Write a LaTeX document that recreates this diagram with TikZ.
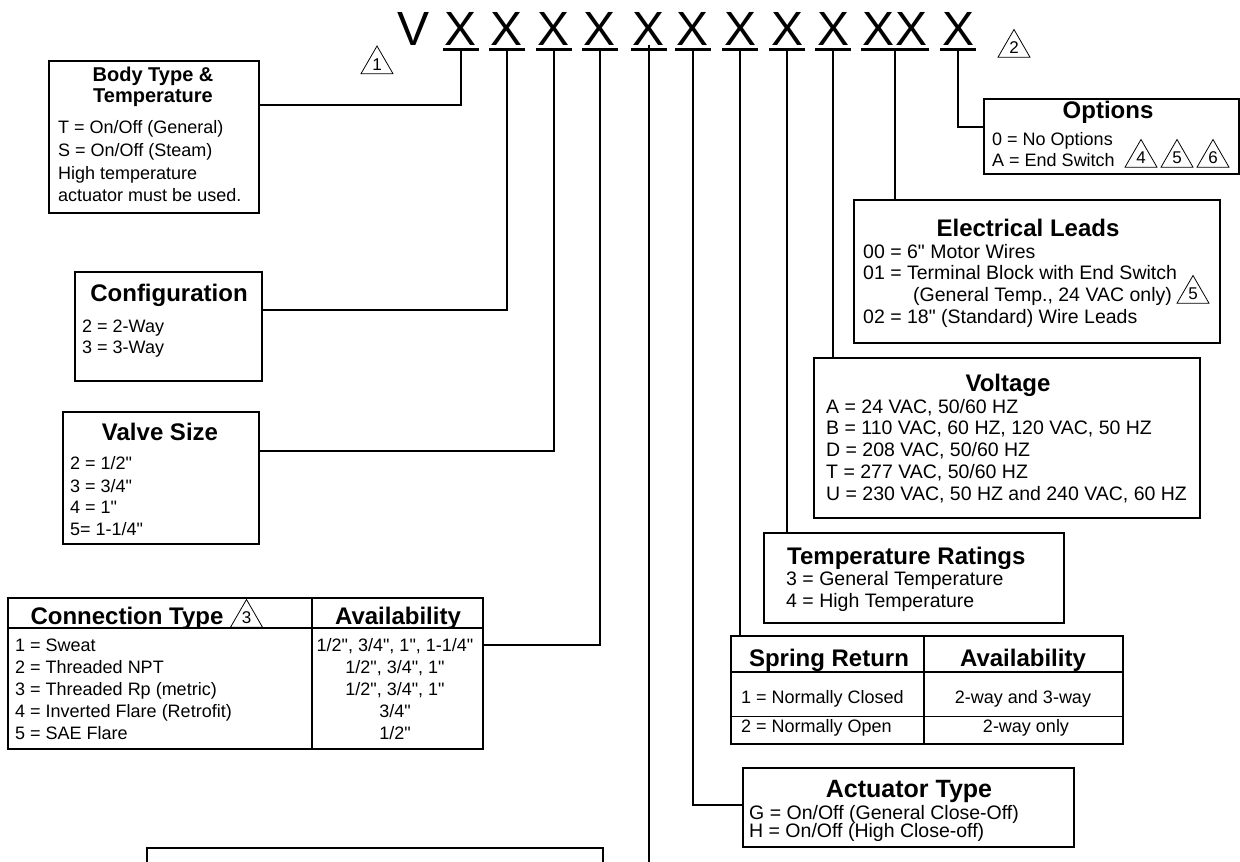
\documentclass[tikz,border=0pt]{standalone}
\usepackage{fontspec}
\setmainfont{Liberation Sans}[Ligatures=TeXOff]
\usetikzlibrary{shapes.geometric}
\begin{document}
\begin{tikzpicture}[x=1pt,y=-1pt,
  box/.style={draw, line width=1.8pt, inner sep=0pt, anchor=north west},
  conn/.style={line width=2pt},
  tline/.style={line width=1.8pt},
  uline/.style={line width=2.5pt},
  bigl/.style={font=\fontsize{48}{48}\selectfont, inner xsep=1.5pt, inner ysep=0pt, text depth=4pt, anchor=base},
  ttl/.style={font=\fontsize{24}{24}\selectfont\bfseries, inner sep=0pt, anchor=base},
  ttls/.style={font=\fontsize{20}{20}\selectfont\bfseries, inner sep=0pt, anchor=base},
  txt/.style={font=\fontsize{18}{18}\selectfont, inner sep=0pt, anchor=base west},
  txtc/.style={font=\fontsize{18}{18}\selectfont, inner sep=0pt, anchor=base},
  txtl/.style={font=\fontsize{19.5}{19.5}\selectfont, inner sep=0pt, anchor=base west},
  tri/.style={draw, line width=0.8pt, regular polygon, regular polygon sides=3, minimum size=37pt, inner sep=0pt, font=\fontsize{17}{17}\selectfont},
]
\useasboundingbox (0,0) rectangle (1240,862);

% ---- code letters ----
\node[bigl, inner xsep=0pt] (v) at (414,45.5) {V};
\node[bigl] (x1) at (461,45.5) {X};
\node[bigl] (x2) at (507,45.5) {X};
\node[bigl] (x3) at (554,45.5) {X};
\node[bigl] (x4) at (600,45.5) {X};
\node[bigl] (x5) at (649,45.5) {X};
\node[bigl] (x6) at (693,45.5) {X};
\node[bigl] (x7) at (740,45.5) {X};
\node[bigl] (x8) at (787,45.5) {X};
\node[bigl] (x9) at (833,45.5) {X};
\node[bigl] (x10) at (895,45.5) {XX};
\node[bigl] (x11) at (958,45.5) {X};
\foreach \n in {x1,x2,x3,x4,x5,x6,x7,x8,x9,x10,x11}
  \draw[uline] (\n.south west) -- (\n.south east);
\node[tri] (t1) at (377,64.5) {1};
\node[tri] (t2) at (1014,48) {2};

% ---- Body type ----
\node[box, minimum width=210, minimum height=152] (bt) at (48,60) {};
\node[ttls] (btt1) at (153,81) {Body Type \&};
\node[ttls] (btt2) at (153,102) {Temperature};
\node[txt] (bti1) at (58,133.4) {T = On/Off (General)};
\node[txt] (bti2) at (58,156.4) {S = On/Off (Steam)};
\node[txt] (bti3) at (58,179.4) {High temperature};
\node[txt] (bti4) at (58,201.4) {actuator must be used.};
\coordinate (btc) at (258,105);
\draw[conn] (x1.south) |- (btc);

% ---- Configuration ----
\node[box, minimum width=187, minimum height=109] (cf) at (74,271) {};
\node[ttl] (cft) at (169,301.6) {Configuration};
\node[txt] (cfi1) at (82,332.4) {2 = 2-Way};
\node[txt] (cfi2) at (82,353.4) {3 = 3-Way};
\coordinate (cfc) at (261,310);
\draw[conn] (x2.south) |- (cfc);

% ---- Valve size ----
\node[box, minimum width=196, minimum height=132] (vs) at (62,411) {};
\node[ttl] (vst) at (160,440.6) {Valve Size};
\node[txt] (vsi1) at (70,469.4) {2 = 1/2"};
\node[txt] (vsi2) at (70,492.4) {3 = 3/4"};
\node[txt] (vsi3) at (70,513.4) {4 = 1"};
\node[txt] (vsi4) at (70,535.4) {5= 1-1/4"};
\coordinate (vsc) at (258,451);
\draw[conn] (x3.south) |- (vsc);

% ---- Connection type table ----
\node[box, minimum width=475, minimum height=151] (ct) at (7,597) {};
\draw[tline] (312,597) -- (312,748);
\draw[tline] (7,628) -- (482,628);
\node[ttl] (ctt1) at (127,624) {Connection Type};
\node[tri] (t3) at (246.5,618) {3};
\node[ttl] (ctt2) at (398,624) {Availability};
\node[txt] (cti1) at (15,651.4) {1 = Sweat};
\node[txt] (cti2) at (15,673.4) {2 = Threaded NPT};
\node[txt] (cti3) at (15,695.4) {3 = Threaded Rp (metric)};
\node[txt] (cti4) at (15,717.4) {4 = Inverted Flare (Retrofit)};
\node[txt] (cti5) at (15,739.4) {5 = SAE Flare};
\node[txtc] (cta1) at (395,651.4) {1/2", 3/4", 1", 1-1/4"};
\node[txtc] (cta2) at (395,673.4) {1/2", 3/4", 1"};
\node[txtc] (cta3) at (395,695.4) {1/2", 3/4", 1"};
\node[txtc] (cta4) at (395,717.4) {3/4"};
\node[txtc] (cta5) at (395,739.4) {1/2"};
\coordinate (ctc) at (482,645);
\draw[conn] (x4.south) |- (ctc);

% ---- bottom box ----
\node[box, minimum width=456, minimum height=40] (bb) at (146,847) {};
\coordinate (x5end) at (649,870);
\draw[conn] ([yshift=5pt]x5.south) -- (x5end);

% ---- Actuator type ----
\node[box, minimum width=331, minimum height=79] (act) at (742,767) {};
\node[ttl, font=\fontsize{25}{25}\selectfont\bfseries] (actt) at (909,797) {Actuator Type};
\node[txtl] (acti1) at (749,819) {G = On/Off (General Close-Off)};
\node[txtl] (acti2) at (749,837) {H = On/Off (High Close-off)};
\coordinate (actc) at (742,805);
\draw[conn] (x6.south) |- (actc);

% ---- Spring return table ----
\node[box, minimum width=392, minimum height=108] (sr) at (730,635) {};
\draw[tline] (924,635) -- (924,743);
\draw[tline] (730,672) -- (1122,672);
\draw[tline] (730,716.5) -- (1122,716.5);
\node[ttl] (srt1) at (829,666) {Spring Return};
\node[ttl] (srt2) at (1023,666) {Availability};
\node[txt] (sri1) at (741,703.4) {1 = Normally Closed};
\node[txt] (sri2) at (741,732) {2 = Normally Open};
\node[txtc] (sra1) at (1023,703.4) {2-way and 3-way};
\node[txtc] (sra2) at (1026,732) {2-way only};
\draw[conn] (x7.south) -- (x7.south |- sr.north);

% ---- Temperature ratings ----
\node[box, minimum width=300, minimum height=90] (tr) at (763,532) {};
\node[ttl, anchor=base west] (trt) at (787,564.6) {Temperature Ratings};
\node[txtl] (tri1) at (786,585.4) {3 = General Temperature};
\node[txtl] (tri2) at (786,607.4) {4 = High Temperature};
\draw[conn] (x8.south) -- (x8.south |- tr.north);

% ---- Voltage ----
\node[box, minimum width=386, minimum height=160] (vo) at (813,357) {};
\node[ttl] (vot) at (1008,391.6) {Voltage};
\node[txtl] (voi1) at (826,413.9) {A = 24 VAC, 50/60 HZ};
\node[txtl] (voi2) at (826,434.9) {B = 110 VAC, 60 HZ, 120 VAC, 50 HZ};
\node[txtl] (voi3) at (826,456.9) {D = 208 VAC, 50/60 HZ};
\node[txtl] (voi4) at (826,478.9) {T = 277 VAC, 50/60 HZ};
\node[txtl] (voi5) at (826,500.9) {U = 230 VAC, 50 HZ and 240 VAC, 60 HZ};
\draw[conn] (x9.south) -- (x9.south |- vo.north);

% ---- Electrical leads ----
\node[box, minimum width=366, minimum height=143] (el) at (853,199) {};
\node[ttl] (elt) at (1028,236.6) {Electrical Leads};
\node[txtl] (eli1) at (863,258.9) {00 = 6" Motor Wires};
\node[txtl] (eli2) at (863,279.9) {01 = Terminal Block with End Switch};
\node[txtl] (eli3) at (913,301.9) {(General Temp., 24 VAC only)};
\node[txtl] (eli4) at (863,323.9) {02 = 18" (Standard) Wire Leads};
\node[tri] (t5b) at (1193,294) {5};
\draw[conn] (x10.south) -- (x10.south |- el.north);

% ---- Options ----
\node[box, minimum width=255, minimum height=75] (op) at (983,98) {};
\node[ttl] (opt) at (1108,118.6) {Options};
\node[txt] (opi1) at (992,145.4) {0 = No Options};
\node[txt] (opi2) at (992,166.4) {A = End Switch};
\node[tri] (t4) at (1141,158) {4};
\node[tri] (t5) at (1177,158) {5};
\node[tri] (t6) at (1213,158) {6};
\coordinate (opc) at (983,127);
\draw[conn] (x11.south) |- (opc);
\end{tikzpicture}
\end{document}
